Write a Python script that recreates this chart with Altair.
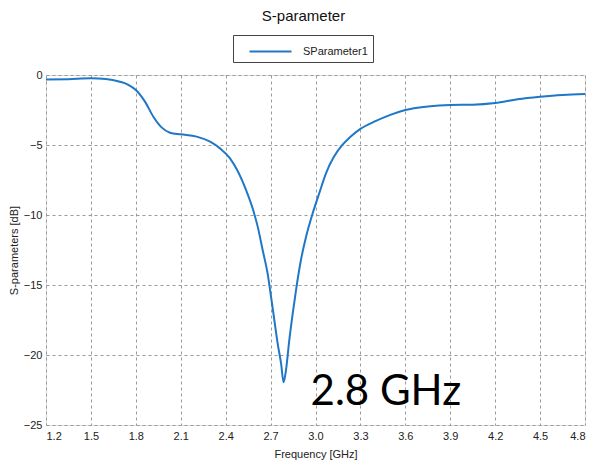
import altair as alt
import pandas as pd

freq = [1.2, 1.35, 1.5, 1.6, 1.694, 1.75, 1.8, 1.861, 1.917, 1.972, 2.028, 2.1, 2.206,
        2.296, 2.362, 2.429, 2.475, 2.536, 2.58, 2.614, 2.647, 2.68, 2.703, 2.725, 2.747,
        2.77, 2.787, 2.803, 2.825, 2.848, 2.87, 2.903, 2.937, 2.981, 3.025, 3.07, 3.12,
        3.175, 3.23, 3.3, 3.4, 3.5, 3.6, 3.75, 3.9, 4.05, 4.2, 4.35, 4.5, 4.65, 4.8]
s11 = [-0.33, -0.3, -0.24, -0.28, -0.48, -0.7, -1.07, -1.9, -2.98, -3.74, -4.12, -4.24,
       -4.4, -4.76, -5.24, -5.95, -6.75, -8.21, -9.52, -10.83, -12.5, -14.17, -15.83,
       -17.5, -19.17, -20.6, -21.95, -21.07, -18.93, -17.02, -15.36, -13.2, -11.55,
       -9.88, -8.45, -7.02, -5.9, -5.05, -4.45, -3.85, -3.3, -2.85, -2.5, -2.25, -2.14,
       -2.12, -2.0, -1.73, -1.55, -1.42, -1.36]
series_name = ["SParameter1"]
x_ticks = [1.2, 1.5, 1.8, 2.1, 2.4, 2.7, 3.0, 3.3, 3.6, 3.9, 4.2, 4.5, 4.8]
y_ticks = [-25, -20, -15, -10, -5, 0]
note_text = ["2.8 GHz"]
note_x = [3.47]
note_y = [-23.6]

df = pd.DataFrame({"freq": freq, "s11": s11, "series": series_name * len(freq)})
note_df = pd.DataFrame({"freq": note_x, "s11": note_y, "label": note_text})

FONT = "Liberation Sans"

x_enc = alt.X("freq:Q",
              scale=alt.Scale(domain=[1.2, 4.8], nice=False, zero=False),
              axis=alt.Axis(values=x_ticks, format=".1f", title="Frequency [GHz]",
                            grid=True, gridDash=[3, 3], gridColor="#9a9a9a",
                            ticks=False, domain=False, labelPadding=5,
                            labelFontSize=11, labelColor="#222", labelFont=FONT,
                            titleFont=FONT, titleFontSize=11, titleFontWeight="normal",
                            titleColor="#222", titlePadding=7))
y_enc = alt.Y("s11:Q",
              scale=alt.Scale(domain=[-25, 0], nice=False, zero=False),
              axis=alt.Axis(values=y_ticks, title="S-parameters [dB]",
                            grid=True, gridDash=[3, 3], gridColor="#9a9a9a",
                            ticks=False, domain=False, labelPadding=4,
                            labelFontSize=11, labelColor="#222", labelFont=FONT,
                            titleFont=FONT, titleFontSize=11, titleFontWeight="normal",
                            titleColor="#222", titlePadding=4))

line = alt.Chart(df).mark_line(strokeWidth=2, interpolate="monotone").encode(
    x=x_enc, y=y_enc,
    color=alt.Color("series:N",
                    scale=alt.Scale(domain=series_name, range=["#1f77c8"]),
                    legend=alt.Legend(orient="none", legendX=187, legendY=-40,
                                      title=None, strokeColor="#444", padding=5,
                                      symbolType="M-2,0L2,0", symbolSize=441,
                                      symbolStrokeWidth=2, symbolOffset=21,
                                      labelFont=FONT, labelFontSize=11,
                                      labelColor="#222", labelOffset=21)))

note = alt.Chart(note_df).mark_text(font="Lato", fontSize=42, color="#000",
                                    align="center", baseline="alphabetic").encode(
    x=alt.X("freq:Q"), y=alt.Y("s11:Q"), text="label:N")

chart = alt.layer(line, note).properties(
    width=539, height=350,
    title=alt.TitleParams("S-parameter", font="Liberation Sans", fontSize=15,
                          fontWeight="normal", color="#111", offset=11, dx=-12),
    autosize=alt.AutoSizeParams(type="none"),
    padding={"left": 38, "top": 67, "right": 3, "bottom": 40},
).configure_view(stroke="#555", strokeWidth=1).configure(background="white")

chart.save("out.html", embed_options={"renderer": "svg", "actions": False})
